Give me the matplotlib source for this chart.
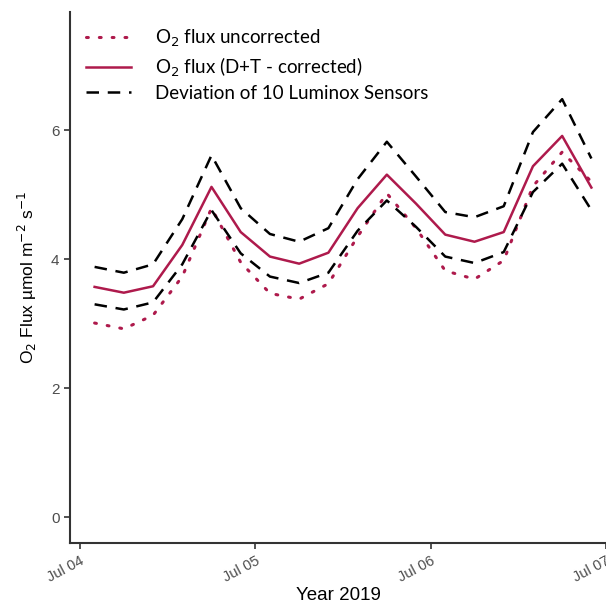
import matplotlib
matplotlib.use('Agg')
import matplotlib.pyplot as plt
import matplotlib.dates as mdates
import numpy as np
import pandas as pd

# 4-hourly values, Jul 04 02:00 .. Jul 06 22:00
times = pd.date_range('2019-07-04 02:00', periods=18, freq='4h')
uncorrected = [3.01, 2.92, 3.13, 3.73, 4.79, 3.95, 3.47, 3.38, 3.62,
               4.35, 5.02, 4.48, 3.82, 3.69, 3.98, 5.13, 5.66, 5.20]
corrected = [3.57, 3.48, 3.58, 4.22, 5.12, 4.42, 4.04, 3.93, 4.10,
             4.79, 5.31, 4.86, 4.38, 4.27, 4.42, 5.44, 5.91, 5.11]
upper = [3.88, 3.79, 3.92, 4.62, 5.61, 4.79, 4.39, 4.27, 4.48,
         5.24, 5.82, 5.28, 4.73, 4.65, 4.82, 5.97, 6.48, 5.56]
lower = [3.30, 3.22, 3.33, 3.92, 4.76, 4.09, 3.73, 3.63, 3.79,
         4.44, 4.91, 4.50, 4.04, 3.94, 4.11, 5.04, 5.48, 4.76]

red = '#AE1A4C'
label_font = ['Liberation Sans', 'DejaVu Sans']

fig = plt.figure(figsize=(6.06, 6.12), dpi=100)
ax = fig.add_axes([0.1155, 0.1127, 0.8845, 0.8676])

ax.plot(times, uncorrected, color=red, lw=2.2, linestyle=(0, (0.6, 3.6)),
        dash_capstyle='round', label=r'O$_2$ flux uncorrected')
ax.plot(times, corrected, color=red, lw=1.8, label=r'O$_2$ flux (D+T - corrected)')
ax.plot(times, upper, color='black', lw=1.8, linestyle=(0, (5, 3.5)),
        label='Deviation of 10 Luminox Sensors')
ax.plot(times, lower, color='black', lw=1.8, linestyle=(0, (5, 3.5)))

start = mdates.date2num(pd.Timestamp('2019-07-04'))
ax.set_xlim(start - 0.057, start + 3.0)
ax.set_ylim(-0.40, 7.83)
ax.set_yticks([0, 2, 4, 6])
ax.xaxis.set_major_locator(mdates.DayLocator())
ax.xaxis.set_major_formatter(mdates.DateFormatter('%b %d'))

for s in ['top', 'right']:
    ax.spines[s].set_visible(False)
for s in ['left', 'bottom']:
    ax.spines[s].set_color('#333333')
    ax.spines[s].set_linewidth(1.5)
ax.tick_params(colors='#333333', length=4, width=1.2, labelcolor='#4d4d4d')
for lab in ax.get_xticklabels():
    lab.set_rotation(28)
    lab.set_ha('right')
    lab.set_rotation_mode('anchor')
    lab.set_fontfamily(label_font)
    lab.set_fontsize(10.5)
for lab in ax.get_yticklabels():
    lab.set_fontfamily(label_font)
    lab.set_fontsize(11)

ax.set_xlabel('Year 2019', fontsize=13.5, family=label_font, labelpad=2)
ax.set_ylabel(r'O$_2$ Flux µmol m$^{-2}$ s$^{-1}$', fontsize=12.5, family=label_font, labelpad=9)

leg = ax.legend(loc='upper left', bbox_to_anchor=(0.0, 1.0), frameon=False,
                prop={'family': ['Lato', 'DejaVu Sans'], 'size': 13.5},
                handlelength=2.4, handletextpad=1.3, labelspacing=0.32,
                borderaxespad=0.45)

fig.savefig('out.png', dpi=100)
